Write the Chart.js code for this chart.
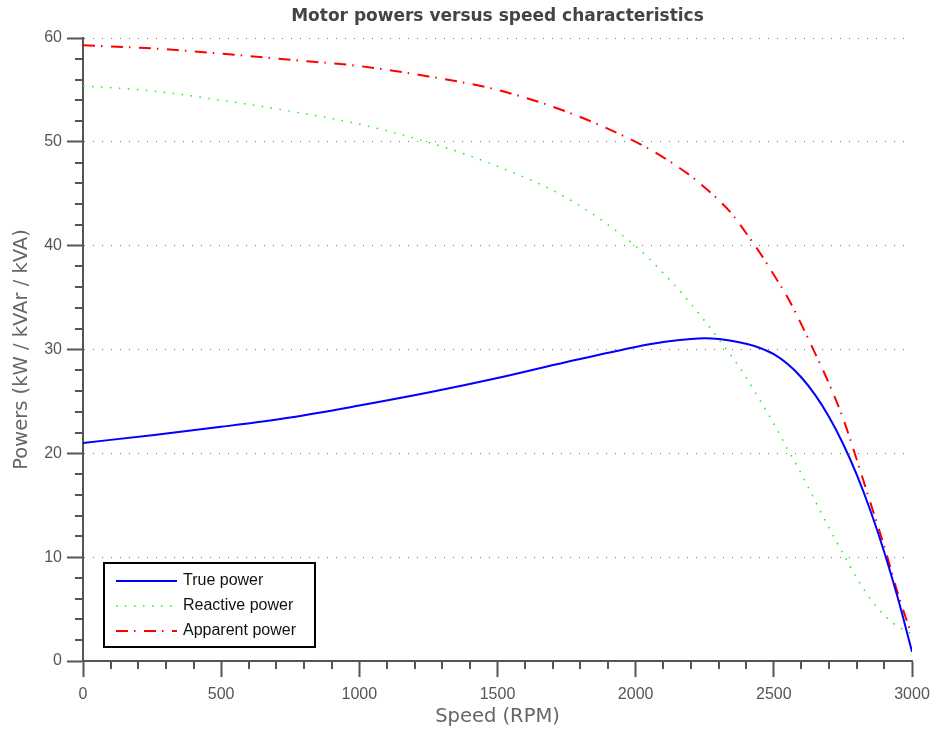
<!DOCTYPE html>
<html>
<head>
<meta charset="utf-8">
<script src="https://cdn.jsdelivr.net/npm/chart.js@4/dist/chart.umd.min.js"></script>
<style>
html,body{margin:0;padding:0;background:#fff;}
#wrap{width:935px;height:731px;position:relative;}
</style>
</head>
<body>
<div id="wrap"><canvas id="c" width="935" height="731"></canvas></div>
<script>
const chartTitle = 'Motor powers versus speed characteristics';
const xTitle = 'Speed (RPM)';
const yTitle = 'Powers (kW / kVAr / kVA)';
const seriesNames = ['True power', 'Reactive power', 'Apparent power'];

const speed =         [0,    250,  500,  750,  1000, 1250, 1500, 1750, 2000, 2100, 2200, 2250, 2300, 2350, 2400, 2450, 2500, 2550, 2600, 2650, 2700, 2750, 2800, 2850, 2900, 2950, 3000];
const truePower =     [21.0, 21.75,22.55,23.45,24.6, 25.85,27.25,28.8, 30.25,30.72,31.02,31.08,31.02,30.82,30.55,30.15,29.55,28.6, 27.3, 25.6, 23.5, 20.95,17.95,14.45,10.45,5.95, 0.9];
const reactivePower = [55.4, 54.9, 54.0, 52.95,51.7, 49.95,47.65,44.6, 39.95,37.35,34.4, 32.75,31.0, 29.25,27.3, 25.1, 22.85,20.4, 18.0, 15.4, 12.8, 10.35,8.0,  5.95, 4.4,  3.3,  2.6];
const apparentPower = [59.3, 59.0, 58.5, 57.9, 57.3, 56.3, 55.0, 52.9, 50.0, 48.5, 46.7, 45.6, 44.4, 43.0, 41.2, 39.3, 37.2, 35.0, 32.4, 29.6, 26.7, 23.4, 19.4, 15.2, 11.0, 6.4,  2.4];

const xMin = 0, xMax = 3000, xMajor = 500, xMinor = 100;
const yMin = 0, yMax = 60, yMajor = 10, yMinor = 2;

function pts(ys){ return speed.map((x,i)=>({x:x, y:ys[i]})); }

const AXIS = '#555';
const TICKFONT = {family:'"Liberation Sans", Arial, sans-serif', size:16};
const TITLEFONT = {family:'"DejaVu Sans", sans-serif', size:19.5};

const minorTicks = {
  id:'minorTicks',
  afterDraw(chart){
    const ctx = chart.ctx, xs = chart.scales.x, ys = chart.scales.y;
    const ca = chart.chartArea;
    ctx.save();
    ctx.strokeStyle = AXIS; ctx.lineWidth = 2;
    ctx.beginPath();
    for (let v = xMin; v <= xMax; v += xMinor){
      if (v % xMajor === 0) continue;
      const px = Math.round(xs.getPixelForValue(v));
      ctx.moveTo(px, ca.bottom); ctx.lineTo(px, ca.bottom + 8);
    }
    for (let v = yMin; v <= yMax; v += yMinor){
      if (v % yMajor === 0) continue;
      const py = Math.round(ys.getPixelForValue(v));
      ctx.moveTo(ca.left, py); ctx.lineTo(ca.left - 8, py);
    }
    ctx.stroke();
    ctx.restore();
  }
};

const titleAndLegend = {
  id:'titleAndLegend',
  afterDraw(chart){
    const ctx = chart.ctx, ca = chart.chartArea;
    ctx.save();
    ctx.fillStyle = '#444';
    ctx.font = 'bold 17px "DejaVu Sans", sans-serif';
    ctx.textAlign = 'center'; ctx.textBaseline = 'middle';
    ctx.fillText(chartTitle, (ca.left + ca.right)/2, 17);
    const bx = ca.left + 21, by = ca.bottom - 98, bw = 211, bh = 84;
    ctx.fillStyle = '#fff';
    ctx.fillRect(bx, by, bw, bh);
    ctx.strokeStyle = '#000'; ctx.lineWidth = 2;
    ctx.strokeRect(bx, by, bw, bh);
    ctx.font = '16px "Liberation Sans", Arial, sans-serif';
    ctx.textAlign = 'left'; ctx.textBaseline = 'middle';
    chart.data.datasets.forEach((ds, i) => {
      const yy = by + 18 + i*25;
      ctx.save();
      ctx.strokeStyle = ds.borderColor; ctx.lineWidth = ds.borderWidth;
      ctx.setLineDash(ds.borderDash || []);
      ctx.beginPath(); ctx.moveTo(bx + 12, yy); ctx.lineTo(bx + 73, yy); ctx.stroke();
      ctx.restore();
      ctx.fillStyle = '#111';
      ctx.fillText(ds.label, bx + 79, yy);
    });
    ctx.restore();
  }
};

new Chart(document.getElementById('c'), {
  type:'line',
  data:{
    datasets:[
      {label:seriesNames[0], data:pts(truePower), borderColor:'#0000ff', borderWidth:2, borderDash:[], pointRadius:0, cubicInterpolationMode:'monotone', fill:false},
      {label:seriesNames[1], data:pts(reactivePower), borderColor:'#00ff00', borderWidth:1.5, borderDash:[1.5,7.5], pointRadius:0, cubicInterpolationMode:'monotone', fill:false},
      {label:seriesNames[2], data:pts(apparentPower), borderColor:'#ff0000', borderWidth:2, borderDash:[12,6,1.5,8.5], pointRadius:0, cubicInterpolationMode:'monotone', fill:false}
    ]
  },
  options:{
    responsive:false, animation:false,
    layout:{padding:{top:38, right:23, left:0, bottom:0}, autoPadding:false},
    plugins:{legend:{display:false}, title:{display:false}, tooltip:{enabled:false}},
    scales:{
      x:{
        type:'linear', min:xMin, max:xMax,
        ticks:{stepSize:xMajor, color:AXIS, font:TICKFONT, padding:8, maxRotation:0, callback:(v)=>String(v)},
        grid:{drawOnChartArea:false, drawTicks:true, tickLength:16, tickColor:AXIS, tickWidth:2},
        border:{display:true, color:AXIS, width:2},
        title:{display:true, text:xTitle, color:'#666', font:TITLEFONT, padding:{top:0,bottom:2}},
        afterFit(s){ s.height = 70; s.paddingLeft = 0; s.paddingRight = 0; }
      },
      y:{
        type:'linear', min:yMin, max:yMax,
        ticks:{stepSize:yMajor, color:AXIS, font:TICKFONT, padding:5, callback:(v)=>String(v)},
        grid:{drawOnChartArea:true, drawTicks:true, tickLength:16, tickColor:AXIS, tickWidth:2, color:'#777', lineWidth:1},
        border:{display:true, color:AXIS, width:2, dash:[1,8]},
        title:{display:true, text:yTitle, color:'#666', font:TITLEFONT, padding:{top:10,bottom:0}},
        afterFit(s){ s.width = 83; s.paddingTop = 0; s.paddingBottom = 0; }
      }
    }
  },
  plugins:[minorTicks, titleAndLegend]
});
</script>
</body>
</html>
